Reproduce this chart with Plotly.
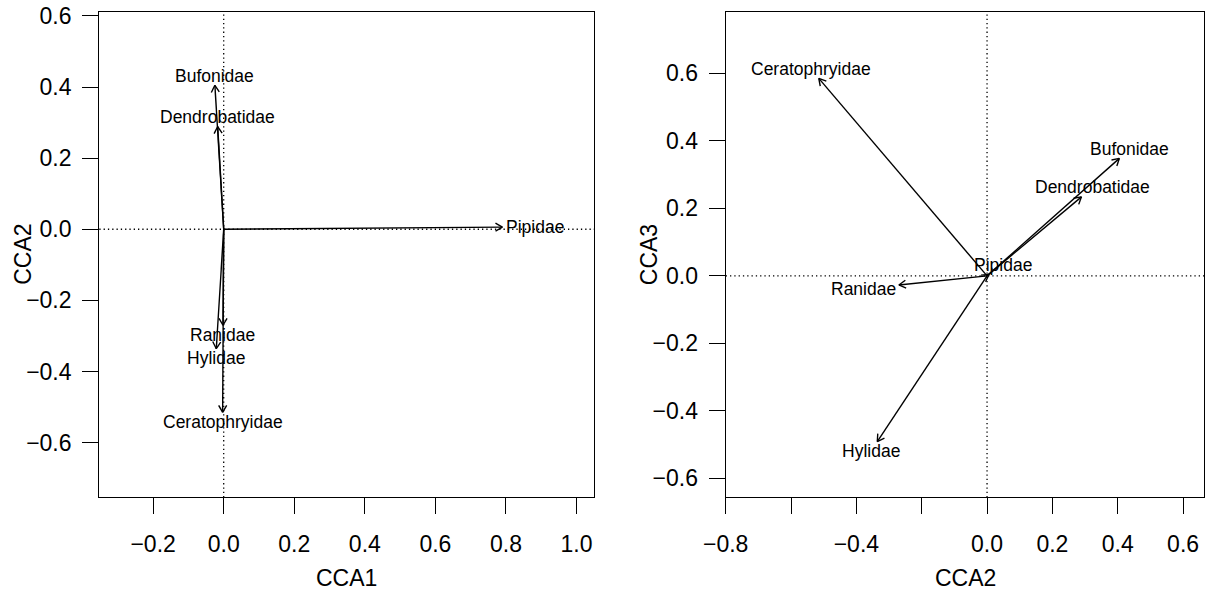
import math
import plotly.graph_objects as go

# ---------------- data (biplot arrow scores) ----------------
families = ["Bufonidae", "Dendrobatidae", "Pipidae", "Ranidae", "Hylidae", "Ceratophryidae"]
cca1 = [-0.025, -0.017, 0.790, -0.002, -0.021, -0.003]
cca2 = [0.405, 0.289, 0.006, -0.270, -0.336, -0.515]
cca3 = [0.348, 0.234, 0.004, -0.027, -0.491, 0.585]

left_xticks = [-0.2, 0.0, 0.2, 0.4, 0.6, 0.8, 1.0]
left_yticks = [-0.6, -0.4, -0.2, 0.0, 0.2, 0.4, 0.6]
right_xticks = [-0.8, -0.6, -0.4, -0.2, 0.0, 0.2, 0.4, 0.6]
right_xlabels = ["\u22120.8", "", "\u22120.4", "", "0.0", "0.2", "0.4", "0.6"]
right_yticks = [-0.6, -0.4, -0.2, 0.0, 0.2, 0.4, 0.6]

# ---------------- style ----------------
W, H = 1230, 593
FONT = "Liberation Sans, Arial, Helvetica, sans-serif"
TICK_SIZE = 23
LABEL_SIZE = 17.5
LW = 1.4

# Arial / Liberation Sans advance widths (per 1000 em)
CW = {"B": 667, "u": 556, "f": 278, "o": 556, "n": 556, "i": 222, "d": 556, "a": 556,
      "e": 556, "D": 722, "r": 333, "b": 556, "t": 278, "P": 667, "p": 556, "R": 722,
      "H": 722, "y": 500, "l": 222, "C": 722, "h": 556}


def fmt(v):
    s = f"{v:.1f}"
    return s.replace("-", "\u2212")


def text_width(s, size):
    return sum(CW.get(c, 556) for c in s) * size / 1000.0


panels = [
    dict(xn="x", yn="y", xv=cca1, yv=cca2, xrange=[-0.3526, 1.0496], yrange=[-0.754, 0.612],
         xpx=(99.3, 594.0), ypx=(11.7, 497.3), xtitle="CCA1", ytitle="CCA2",
         xticks=left_xticks, xlabels=[fmt(v) for v in left_xticks],
         yticks=left_yticks, ylabels=[fmt(v) for v in left_yticks]),
    dict(xn="x2", yn="y2", xv=cca2, yv=cca3, xrange=[-0.800, 0.665], yrange=[-0.656, 0.7825],
         xpx=(725.7, 1204.3), ypx=(11.7, 497.3), xtitle="CCA2", ytitle="CCA3",
         xticks=right_xticks, xlabels=right_xlabels,
         yticks=right_yticks, ylabels=[fmt(v) for v in right_yticks]),
]

fig = go.Figure()
annotations = []
shapes = []
layout_axes = {}

for i, p in enumerate(panels):
    sx = (p["xpx"][1] - p["xpx"][0]) / (p["xrange"][1] - p["xrange"][0])
    sy = (p["ypx"][1] - p["ypx"][0]) / (p["yrange"][1] - p["yrange"][0])

    # arrows: shafts + open heads, computed in pixel space
    xs, ys = [], []
    L = 8.0
    for x, y in zip(p["xv"], p["yv"]):
        xs += [0, x, None]
        ys += [0, y, None]
        th = math.atan2(y * sy, x * sx)
        for a in (math.pi / 6, -math.pi / 6):
            ang = th + math.pi + a
            xs += [x + L * math.cos(ang) / sx, x, None]
            ys += [y + L * math.sin(ang) / sy, y, None]
    fig.add_trace(go.Scatter(x=xs, y=ys, mode="lines", xaxis=p["xn"], yaxis=p["yn"],
                             line=dict(color="black", width=LW), hoverinfo="skip",
                             showlegend=False))

    # labels placed like vegan's ordiArrowTextXY
    h = 0.716 * LABEL_SIZE
    for name, x, y in zip(families, p["xv"], p["yv"]):
        w = text_width(name, LABEL_SIZE)
        px, py = x * sx, y * sy
        sgx = (px > 0) - (px < 0)
        sgy = (py > 0) - (py < 0)
        offx = sgx * (w / 2 + h / 4)
        offy = 0.75 * h * sgy
        b = py / px if px != 0 else float("inf")
        move = offy / b if (b != 0 and math.isfinite(b)) else float("inf")
        if math.isfinite(move) and abs(move) <= abs(offx):
            offx = move
        else:
            offy = b * offx
        annotations.append(dict(x=x + offx / sx, y=y + offy / sy, xref=p["xn"], yref=p["yn"],
                                text=name, showarrow=False, xanchor="center", yanchor="middle",
                                font=dict(family=FONT, size=LABEL_SIZE, color="black")))

    # dotted cross through origin
    shapes.append(dict(type="line", xref=p["xn"] + " domain", yref=p["yn"], x0=0, x1=1, y0=0, y1=0,
                       line=dict(color="black", width=1.3, dash="1.3px,3px"), layer="below"))
    shapes.append(dict(type="line", xref=p["xn"], yref=p["yn"] + " domain", x0=0, x1=0, y0=0, y1=1,
                       line=dict(color="black", width=1.3, dash="1.3px,3px"), layer="below"))

    common = dict(showgrid=False, zeroline=False, showline=True, mirror=True, linecolor="black",
                  linewidth=1.3, ticks="outside", ticklen=16, tickwidth=1.3, tickcolor="black",
                  tickfont=dict(family=FONT, size=TICK_SIZE, color="black"), fixedrange=True,
                  automargin=False)
    xkey = "xaxis" if i == 0 else "xaxis2"
    ykey = "yaxis" if i == 0 else "yaxis2"
    layout_axes[xkey] = dict(common, domain=[p["xpx"][0] / W, p["xpx"][1] / W], range=p["xrange"],
                             tickmode="array", tickvals=p["xticks"], ticktext=p["xlabels"],
                             anchor=p["yn"], ticklabelstandoff=10)
    layout_axes[ykey] = dict(common, domain=[(H - p["ypx"][1]) / H, (H - p["ypx"][0]) / H],
                             range=p["yrange"], tickmode="array", tickvals=p["yticks"],
                             ticktext=p["ylabels"], anchor=p["xn"], ticklabelstandoff=6)

    # axis titles
    cx = (p["xpx"][0] + p["xpx"][1]) / 2
    annotations.append(dict(x=cx / W, y=0, xref="paper", yref="paper", text=p["xtitle"],
                            showarrow=False, xanchor="center", yanchor="bottom",
                            font=dict(family=FONT, size=TICK_SIZE, color="black")))
    cy = (p["ypx"][0] + p["ypx"][1]) / 2
    annotations.append(dict(x=(p["xpx"][0] - 77) / W, y=1 - cy / H, xref="paper", yref="paper",
                            text=p["ytitle"], textangle=-90, showarrow=False, xanchor="center",
                            yanchor="middle", font=dict(family=FONT, size=TICK_SIZE, color="black")))

fig.update_layout(width=W, height=H, margin=dict(l=0, r=0, t=0, b=0, autoexpand=False),
                  plot_bgcolor="white", paper_bgcolor="white", annotations=annotations,
                  shapes=shapes, showlegend=False, **layout_axes)

fig.write_html("out.html", config={"responsive": False, "displayModeBar": False},
               post_script="document.body.style.margin='0';document.body.style.overflow='hidden';")
